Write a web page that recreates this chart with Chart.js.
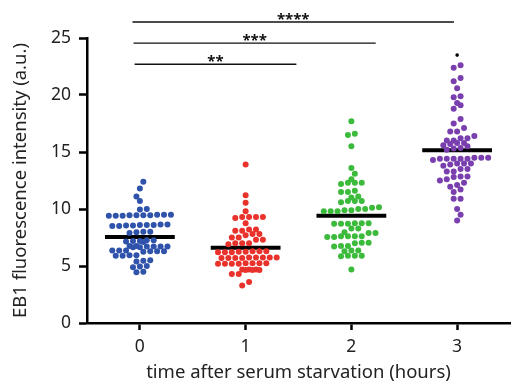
<!DOCTYPE html>
<html><head><meta charset="utf-8">
<script src="https://cdn.jsdelivr.net/npm/chart.js@4/dist/chart.umd.min.js"></script>
<style>html,body{margin:0;padding:0;background:#fff}</style>
</head><body>
<canvas id="c" width="514" height="385" style="width:514px;height:385px"></canvas>
<script>
// ---- data ----
const categories = [0, 1, 2, 3];
const xTickLabels = ['0', '1', '2', '3'];
const yTickStep = 5;
const group0 = [12.4, 11.8, 11.1, 10.7, 10.0, 9.95,
  9.5, 9.45, 9.4, 9.45, 9.4, 9.5, 9.45, 9.4, 9.5, 9.45,
  8.65, 8.6, 8.55, 8.6, 8.5, 8.55, 8.6, 8.5, 8.65,
  8.0, 7.95, 8.0, 7.9,
  7.25, 7.2, 7.15, 7.25, 7.2, 7.1,
  6.75, 6.7, 6.7, 6.65, 6.7, 6.75, 6.65, 6.7,
  6.35, 6.3, 6.35, 6.3, 6.25, 6.35, 6.3,
  5.95, 5.9, 5.95, 5.9,
  5.45, 5.5, 5.4, 5.0, 4.95, 4.9, 4.5, 4.45];
const group1 = [13.9, 11.2, 10.55, 9.8,
  9.3, 9.3, 9.3, 9.2, 9.3, 8.75,
  8.2, 8.1, 8.1, 8.2, 7.8, 7.8, 7.7, 7.5, 7.5, 7.3, 7.3,
  7.0, 7.0, 6.9, 7.0,
  6.3, 6.25, 6.2, 6.3, 6.2, 6.25, 6.3, 6.2,
  5.75, 5.75, 5.7, 5.7, 5.75, 5.7, 5.75, 5.7, 5.75,
  5.25, 5.25, 5.2, 5.2, 5.25, 5.2, 5.25, 5.2,
  4.7, 4.65, 4.7, 4.65, 4.7, 4.65,
  4.3, 4.3, 3.6, 3.3];
const group2 = [17.7, 16.6, 16.5, 15.5, 13.6, 13.1, 12.6,
  12.3, 12.3, 12.2, 12.3, 11.5, 11.5, 11.6, 11.1, 11.0,
  10.7, 10.7, 10.6, 10.7,
  10.15, 10.0, 9.9, 9.8, 9.8, 9.8, 9.9, 10.0, 10.1,
  8.75, 8.7, 8.7, 8.75, 8.7, 8.75, 8.3, 8.3,
  7.9, 7.9, 7.95,
  7.6, 7.6, 7.55, 7.6, 7.6, 7.55,
  7.05, 7.0, 7.05, 6.75, 6.75, 6.7,
  6.35, 6.3, 6.35, 5.9, 5.9, 5.85, 5.9, 4.7];
const group3 = [22.6, 22.4, 21.5, 21.2, 20.6, 19.9, 19.8, 19.3, 19.1, 18.8,
  17.9, 17.5, 17.1, 16.8, 16.8, 16.4, 16.2, 16.2, 16.0, 16.0,
  15.8, 15.8, 15.7, 15.6, 15.5, 15.35, 15.3, 15.2,
  14.5, 14.5, 14.4, 14.4, 14.4, 14.5, 14.4, 14.3, 14.4,
  14.0, 14.0, 13.9, 14.0, 13.8,
  13.5, 13.5, 13.3, 13.3, 12.85, 12.8, 12.85, 12.6, 12.5,
  12.3, 12.1, 11.95, 11.7, 11.5, 10.9, 10.9, 10.0, 9.5, 9.0];
const outlier3 = [23.5];
const medians = [7.55, 6.6, 9.4, 15.15];
const sigLabels = ['**', '***', '****'];
const sigStart = [-0.05, -0.06, -0.07];
const sigEnd = [1.48, 2.23, 2.97];
const sigLevel = [22.7, 24.55, 26.4];

const groups = [group0, group1, group2, group3];
const colors = ['#2f52aa', '#e8322b', '#3cba3c', '#7a3fae'];
const FONT = '"Noto Sans", Lato, sans-serif';

const datasets = [];
groups.forEach((g, i) => {
  datasets.push({
    type: 'scatter', label: 'g' + i,
    data: g.map(v => ({x: categories[i], y: v})),
    backgroundColor: colors[i], borderWidth: 0, pointRadius: 3.0, pointHoverRadius: 3.0
  });
});
datasets.push({
  type: 'scatter', label: 'outlier',
  data: outlier3.map(v => ({x: categories[3], y: v})),
  backgroundColor: '#000', borderWidth: 0, pointRadius: 1.8, clip: false
});
medians.forEach((m, i) => {
  datasets.push({
    type: 'line', label: 'med' + i,
    data: [{x: categories[i] - 0.33, y: m}, {x: categories[i] + 0.33, y: m}],
    borderColor: '#000', borderWidth: 4, pointRadius: 0, borderCapStyle: 'butt'
  });
});
sigLevel.forEach((lv, i) => {
  datasets.push({
    type: 'line', label: 'sig' + i,
    data: [{x: sigStart[i], y: lv}, {x: sigEnd[i], y: lv}],
    borderColor: '#111', borderWidth: 1.4, pointRadius: 0, clip: false
  });
});

const starPlugin = {
  id: 'stars',
  afterDatasetsDraw(chart) {
    const {ctx, scales: {x, y}} = chart;
    ctx.save();
    ctx.fillStyle = '#111';
    ctx.font = 'bold 15px ' + FONT;
    ctx.textAlign = 'center';
    ctx.textBaseline = 'alphabetic';
    sigLabels.forEach((t, i) => {
      ctx.fillText(t, x.getPixelForValue((sigStart[i] + sigEnd[i]) / 2), y.getPixelForValue(sigLevel[i]) + 2);
    });
    ctx.restore();
  }
};

const tickFont = {family: FONT, size: 17.5};
const chart = new Chart(document.getElementById('c'), {
  type: 'scatter',
  data: {datasets},
  options: {
    responsive: false, devicePixelRatio: 1, animation: false,
    layout: {padding: {top: 38, right: 0, left: 0, bottom: 0}},
    plugins: {legend: {display: false}, tooltip: {enabled: false}},
    scales: {
      x: {
        type: 'linear', min: -0.5, max: 3.5,
        afterBuildTicks: s => { s.ticks = categories.map(v => ({value: v})); },
        afterFit: s => { s.height = 62; },
        ticks: {callback: v => xTickLabels[categories.indexOf(v)], font: tickFont, color: '#222', padding: 7, maxRotation: 0},
        grid: {drawOnChartArea: false, drawTicks: true, tickLength: 7, tickWidth: 2.5, tickColor: '#000'},
        border: {display: true, color: '#000', width: 2.5},
        title: {display: true, text: 'time after serum starvation (hours)', font: {family: FONT, size: 18.5}, color: '#222', padding: {top: 0, bottom: 1}}
      },
      y: {
        min: 0, max: 25,
        afterFit: s => { s.width = 87; },
        ticks: {stepSize: yTickStep, font: tickFont, color: '#222', padding: 8},
        grid: {drawOnChartArea: false, drawTicks: true, tickLength: 8, tickWidth: 2.5, tickColor: '#000'},
        border: {display: true, color: '#000', width: 2.5},
        title: {display: true, text: 'EB1 fluorescence intensity (a.u.)', font: {family: FONT, size: 18.5}, color: '#222', padding: {top: 10, bottom: 0}}
      }
    }
  },
  plugins: [starPlugin]
});

// staggered row dot-plot layout (Prism style), computed from the values
function rows(values, binH, d, yPx) {
  const order = values.map((v, i) => i).sort((a, b) => values[a] - values[b]);
  const bins = [];
  let cur = null;
  for (const i of order) {
    if (!cur || values[i] - cur.start > binH) { cur = {start: values[i], idx: []}; bins.push(cur); }
    cur.idx.push(i);
  }
  const offs = new Array(values.length).fill(0);
  let prevPhase = null, prevY = null, flip = 1;
  for (const b of bins) {
    const n = b.idx.length;
    const yc = yPx(b.idx.reduce((s, i) => s + values[i], 0) / n);
    let shift = 0;
    let phase = ((n - 1) / 2) % 1;
    if (prevPhase !== null && Math.abs(yc - prevY) < d && Math.abs(phase - prevPhase) < 0.01) {
      shift = flip * d / 2; flip = -flip; phase = (phase + 0.5) % 1;
    }
    b.idx.forEach((idx, k) => { offs[idx] = (k - (n - 1) / 2) * d + shift; });
    prevPhase = phase; prevY = yc;
  }
  return offs;
}
const xs = chart.scales.x, ys = chart.scales.y;
const pxPerX = xs.getPixelForValue(1) - xs.getPixelForValue(0);
groups.forEach((g, i) => {
  const offs = rows(g, 0.4, 6.9, v => ys.getPixelForValue(v));
  chart.data.datasets[i].data = g.map((v, k) => ({x: categories[i] + offs[k] / pxPerX, y: v}));
});
chart.update('none');
</script>
</body></html>
